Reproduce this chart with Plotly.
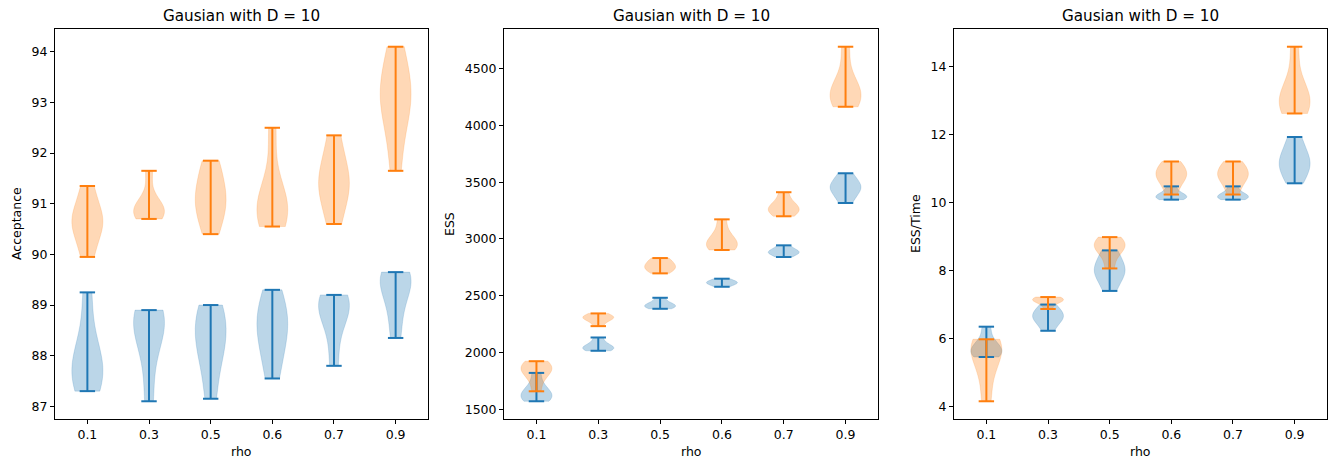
import numpy as np
import plotly.graph_objects as go

# ---------------- data ----------------
rho_labels = ["0.1", "0.3", "0.5", "0.6", "0.7", "0.9"]

# Acceptance samples (per rho), blue = baseline, orange = proposed
acc_blue = [
    [87.3, 87.5, 87.7, 87.9, 88.3, 89.25],
    [87.1, 88.0, 88.5, 88.7, 88.8, 88.9],
    [87.15, 87.9, 88.2, 88.5, 88.8, 89.0],
    [87.55, 88.1, 88.4, 88.7, 88.9, 89.3],
    [87.8, 88.5, 88.9, 89.0, 89.1, 89.2],
    [88.35, 88.9, 89.3, 89.5, 89.6, 89.65],
]
acc_orange = [
    [89.95, 90.4, 90.6, 90.7, 90.9, 91.35],
    [90.7, 90.8, 90.85, 90.9, 91.0, 91.65],
    [90.4, 90.8, 91.0, 91.2, 91.5, 91.85],
    [90.55, 90.7, 90.9, 91.0, 91.3, 92.5],
    [90.6, 91.1, 91.35, 91.5, 91.8, 92.35],
    [91.65, 92.6, 93.0, 93.2, 93.5, 94.1],
]

# ESS samples
ess_blue = [
    [1570, 1600, 1620, 1640, 1700, 1820],
    [2015, 2030, 2040, 2050, 2080, 2132],
    [2385, 2400, 2410, 2420, 2440, 2482],
    [2579, 2600, 2610, 2620, 2630, 2650],
    [2841, 2870, 2880, 2890, 2910, 2944],
    [3317, 3400, 3440, 3470, 3500, 3579],
]
ess_orange = [
    [1658, 1780, 1840, 1860, 1880, 1923],
    [2232, 2280, 2300, 2310, 2320, 2344],
    [2697, 2730, 2750, 2770, 2800, 2832],
    [2903, 2930, 2950, 2980, 3040, 3173],
    [3200, 3240, 3260, 3280, 3320, 3412],
    [4165, 4230, 4260, 4300, 4400, 4694],
]

# ESS/Time samples
esst_blue = [
    [5.46, 5.55, 5.65, 5.7, 5.9, 6.35],
    [6.23, 6.5, 6.6, 6.7, 6.8, 7.0],
    [7.4, 7.8, 7.95, 8.05, 8.3, 8.59],
    [10.08, 10.13, 10.17, 10.2, 10.3, 10.47],
    [10.08, 10.13, 10.17, 10.2, 10.3, 10.47],
    [10.56, 10.9, 11.1, 11.25, 11.5, 11.92],
]
esst_orange = [
    [4.16, 5.0, 5.5, 5.7, 5.85, 5.98],
    [6.87, 7.05, 7.1, 7.15, 7.18, 7.22],
    [8.06, 8.5, 8.65, 8.75, 8.85, 8.98],
    [10.23, 10.6, 10.75, 10.85, 11.0, 11.2],
    [10.23, 10.6, 10.75, 10.85, 11.0, 11.2],
    [12.61, 12.8, 12.95, 13.1, 13.5, 14.57],
]

titles = ["Gausian with D = 10"] * 3
ylabels = ["Acceptance", "ESS", "ESS/Time"]
xlabel = "rho"
yticks = [list(range(87, 95)), list(range(1500, 5000, 500)), list(range(4, 16, 2))]

panels = [(acc_blue, acc_orange), (ess_blue, ess_orange), (esst_blue, esst_orange)]

# ---------------- style ----------------
W, H = 1335, 461
BLUE = (31, 119, 180)
ORANGE = (255, 127, 14)
FONT = "DejaVu Sans"
VW = 0.5  # violin width (data units)
CAP = VW / 4

# pixel geometry of axes boxes
ax_px = [(55, 428), (504, 878), (954, 1327)]
top_px, bot_px = 29, 419
ylab_px = [16, 449, 915]

fig = go.Figure()
positions = list(range(1, len(rho_labels) + 1))


def rgba(c, a):
    return f"rgba({c[0]},{c[1]},{c[2]},{a})"


for k, (blue, orange) in enumerate(panels):
    xa = "x" if k == 0 else f"x{k+1}"
    ya = "y" if k == 0 else f"y{k+1}"
    for series, col in ((blue, BLUE), (orange, ORANGE)):
        for p, s in zip(positions, series):
            arr = np.asarray(s, dtype=float)
            bw = arr.std(ddof=1) * len(arr) ** (-1 / 5)
            fig.add_trace(go.Violin(
                x=[p] * len(arr), y=arr, xaxis=xa, yaxis=ya,
                width=VW, spanmode="hard", bandwidth=bw, scalemode="width",
                points=False, box_visible=False, meanline_visible=False,
                fillcolor=rgba(col, 0.3), line=dict(color=rgba(col, 0.3), width=0.6),
                hoverinfo="skip", showlegend=False,
            ))
        # extrema caps and vertical bars
        xs, ys = [], []
        for p, s in zip(positions, series):
            mn, mx = min(s), max(s)
            xs += [p - CAP, p + CAP, None, p - CAP, p + CAP, None, p, p, None]
            ys += [mn, mn, None, mx, mx, None, mn, mx, None]
        fig.add_trace(go.Scatter(
            x=xs, y=ys, xaxis=xa, yaxis=ya, mode="lines",
            line=dict(color=rgba(col, 1), width=2), hoverinfo="skip", showlegend=False,
        ))

layout = dict(
    width=W, height=H, margin=dict(l=0, r=0, t=0, b=0),
    paper_bgcolor="white", plot_bgcolor="white",
    violinmode="overlay", showlegend=False,
    font=dict(family=FONT, size=12.5, color="black"),
)
annotations = []
ydom = [1 - bot_px / H, 1 - top_px / H]
for k, (blue, orange) in enumerate(panels):
    sfx = "" if k == 0 else str(k + 1)
    allv = [v for s in blue + orange for v in s]
    lo, hi = min(allv), max(allv)
    span = hi - lo
    x0, x1 = ax_px[k]
    layout["xaxis" + sfx] = dict(
        domain=[x0 / W, x1 / W], anchor="y" + sfx,
        range=[positions[0] - VW / 2 - 0.05 * (positions[-1] - positions[0] + VW),
               positions[-1] + VW / 2 + 0.05 * (positions[-1] - positions[0] + VW)],
        tickmode="array", tickvals=positions, ticktext=rho_labels,
        showline=True, linecolor="black", linewidth=1, mirror=True,
        ticks="outside", ticklen=4, tickwidth=1, tickcolor="black",
        showgrid=False, zeroline=False, tickfont=dict(size=12.5, family=FONT),
    )
    layout["yaxis" + sfx] = dict(
        domain=ydom, anchor="x" + sfx,
        range=[lo - 0.05 * span, hi + 0.05 * span],
        tickmode="array", tickvals=yticks[k],
        showline=True, linecolor="black", linewidth=1, mirror=True,
        ticks="outside", ticklen=4, tickwidth=1, tickcolor="black",
        showgrid=False, zeroline=False, tickfont=dict(size=12.5, family=FONT),
    )
    xc = (x0 + x1) / 2 / W
    annotations.append(dict(text=titles[k], x=xc, y=1 - 16 / H, xref="paper", yref="paper",
                            xanchor="center", yanchor="middle", showarrow=False,
                            font=dict(size=15.2, family=FONT, color="black")))
    annotations.append(dict(text=xlabel, x=xc, y=1 - 451 / H, xref="paper", yref="paper",
                            xanchor="center", yanchor="middle", showarrow=False,
                            font=dict(size=12.5, family=FONT, color="black")))
    annotations.append(dict(text=ylabels[k], x=ylab_px[k] / W, y=1 - (top_px + bot_px) / 2 / H,
                            xref="paper", yref="paper", textangle=-90,
                            xanchor="center", yanchor="middle", showarrow=False,
                            font=dict(size=12.5, family=FONT, color="black")))
layout["annotations"] = annotations
fig.update_layout(**layout)
fig.write_html(
    "out.html",
    config={"displayModeBar": False, "staticPlot": True},
    post_script="document.body.style.margin='0';document.body.style.overflow='hidden';",
)
